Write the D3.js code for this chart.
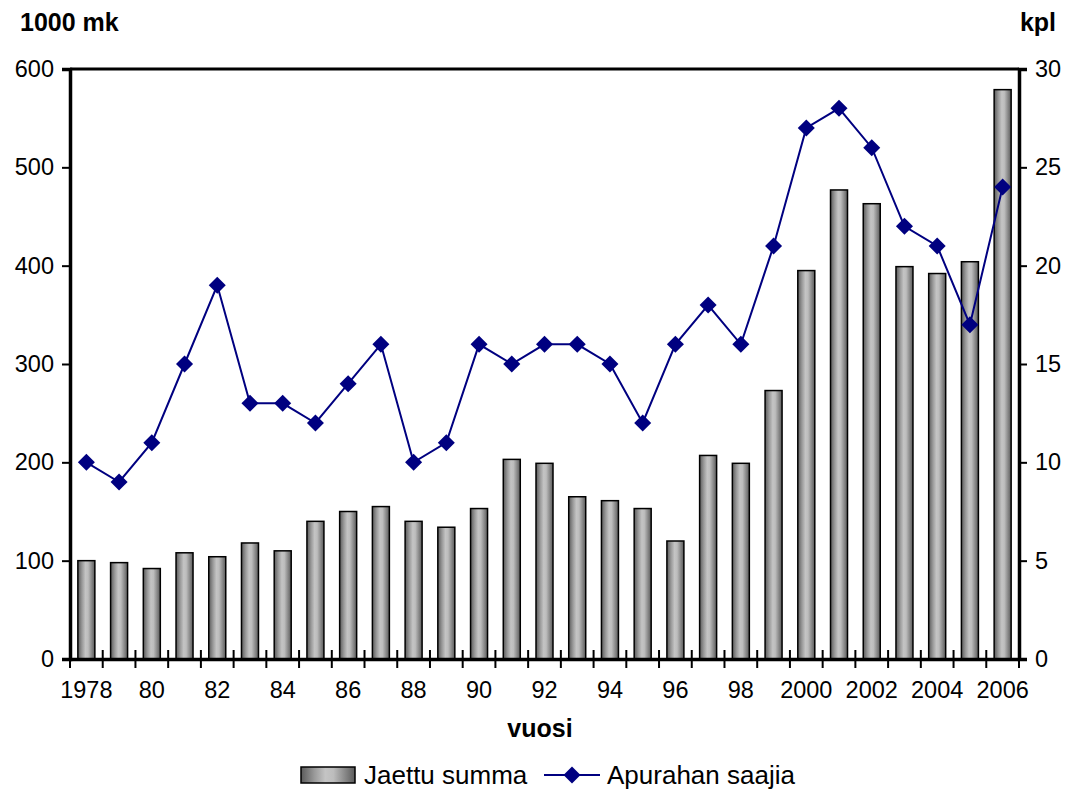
<!DOCTYPE html>
<html>
<head>
<meta charset="utf-8">
<script src="https://d3js.org/d3.v7.min.js"></script>
<style>
body { margin: 0; background: #fff; }
text { font-family: "Liberation Sans", Arial, sans-serif; }
</style>
</head>
<body>
<svg width="1074" height="792"></svg>
<script>
// data
var years = d3.range(1978, 2007);
var summa = [100, 98, 92, 108, 104, 118, 110, 140, 150, 155, 140, 134, 153, 203, 199, 165, 161, 153, 120, 207, 199, 273, 395, 477, 463, 399, 392, 404, 579];
var saajia = [10, 9, 11, 15, 19, 13, 13, 12, 14, 16, 10, 11, 16, 15, 16, 16, 15, 12, 16, 18, 16, 21, 27, 28, 26, 22, 21, 17, 24];
var leftTicks = [0, 100, 200, 300, 400, 500, 600];
var rightTicks = [0, 5, 10, 15, 20, 25, 30];
var yearLabel = function(y) {
	if ((y - 1978) % 2 != 0) return "";
	if (y == 1978 || y >= 2000) return "" + y;
	return ("" + y).slice(2);
};

var margin = { top: 69, left: 70, bottom: 133, right: 55 };
var width = 1074, height = 792;

var svg = d3.select("svg");

var defs = svg.append("defs");
var grad = defs.append("linearGradient").attr("id", "barGrad")
	.attr("x1", "0%").attr("x2", "100%").attr("y1", "0%").attr("y2", "0%");
[[0, "#5a5a5a"], [0.25, "#9a9a9a"], [0.45, "#c4c4c4"], [0.6, "#bdbdbd"], [0.8, "#8c8c8c"], [1, "#5a5a5a"]]
	.forEach(function(s) { grad.append("stop").attr("offset", s[0]).attr("stop-color", s[1]); });

// scales
var xScale = d3.scaleBand().domain(years).range([margin.left, width - margin.right]);
var yLeft = d3.scaleLinear().domain([0, 600]).range([height - margin.bottom, margin.top]);
var yRight = d3.scaleLinear().domain([0, 30]).range([height - margin.bottom, margin.top]);

var x0 = margin.left, x1 = width - margin.right;
var yb = height - margin.bottom, yt = margin.top;

// bars
var barW = 17;
svg.selectAll(".bar").data(summa).enter().append("rect")
	.attr("class", "bar")
	.attr("x", function(d, i) { return xScale(years[i]) + xScale.bandwidth() / 2 - barW / 2; })
	.attr("y", function(d) { return yLeft(d); })
	.attr("width", barW)
	.attr("height", function(d) { return yb - yLeft(d); })
	.style("fill", "url(#barGrad)")
	.style("stroke", "#000")
	.style("stroke-width", 1.5);

// top border
svg.append("line").attr("x1", x0).attr("x2", x1).attr("y1", yt).attr("y2", yt)
	.style("stroke", "#000").style("stroke-width", 3);

// left axis
var leftAxis = svg.append("g")
	.attr("transform", `translate(${x0}, 0)`)
	.call(d3.axisLeft(yLeft).tickValues(leftTicks).tickSize(8).tickPadding(8));
// right axis
var rightAxis = svg.append("g")
	.attr("transform", `translate(${x1}, 0)`)
	.call(d3.axisRight(yRight).tickValues(rightTicks).tickSize(8).tickPadding(8));
// bottom axis: ticks between categories, crossing the line
var xAxis = svg.append("g")
	.attr("transform", `translate(0, ${yb})`)
	.call(d3.axisBottom(xScale).tickFormat(yearLabel).tickSize(0).tickPadding(22));

[leftAxis, rightAxis, xAxis].forEach(function(a) {
	a.select(".domain").style("stroke", "#000").style("stroke-width", 3.5);
	a.selectAll("line").style("stroke", "#000").style("stroke-width", 2);
	a.selectAll("text").style("font-size", "23.5px").style("fill", "#000");
});

var bounds = years.map(function(y) { return xScale(y); }).concat([x1]);
svg.append("g").selectAll("line").data(bounds).enter().append("line")
	.attr("x1", function(d) { return d; }).attr("x2", function(d) { return d; })
	.attr("y1", yb - 9).attr("y2", yb + 9)
	.style("stroke", "#000").style("stroke-width", 2);

// line series
var valueline = d3.line()
	.x(function(d, i) { return xScale(years[i]) + xScale.bandwidth() / 2; })
	.y(function(d) { return yRight(d); });

svg.append("path")
	.attr("d", valueline(saajia))
	.style("fill", "none")
	.style("stroke", "#000080")
	.style("stroke-width", 2);

svg.selectAll(".pt").data(saajia).enter().append("path")
	.attr("class", "pt")
	.attr("d", d3.symbol().type(d3.symbolSquare).size(145))
	.attr("transform", function(d, i) {
		return "translate(" + (xScale(years[i]) + xScale.bandwidth() / 2) + "," + yRight(d) + ") rotate(45)";
	})
	.style("fill", "#000080");

// titles
svg.append("text").attr("x", 20).attr("y", 31).text("1000 mk")
	.style("font-weight", "bold").style("font-size", "25px");
svg.append("text").attr("x", 1056).attr("y", 31).attr("text-anchor", "end").text("kpl")
	.style("font-weight", "bold").style("font-size", "25px");
svg.append("text").attr("x", 540).attr("y", 737).attr("text-anchor", "middle").text("vuosi")
	.style("font-weight", "bold").style("font-size", "25px");

// legend
var lg = svg.append("g");
lg.append("rect").attr("x", 301).attr("y", 767).attr("width", 54).attr("height", 16)
	.style("fill", "url(#barGrad)").style("stroke", "#000").style("stroke-width", 1.5);
lg.append("text").attr("x", 364).attr("y", 784).text("Jaettu summa").style("font-size", "26px");
lg.append("line").attr("x1", 544).attr("x2", 600).attr("y1", 775).attr("y2", 775)
	.style("stroke", "#000080").style("stroke-width", 2);
lg.append("path").attr("d", d3.symbol().type(d3.symbolSquare).size(145))
	.attr("transform", "translate(572,775) rotate(45)").style("fill", "#000080");
lg.append("text").attr("x", 607).attr("y", 784).text("Apurahan saajia").style("font-size", "26px");
</script>
</body>
</html>
